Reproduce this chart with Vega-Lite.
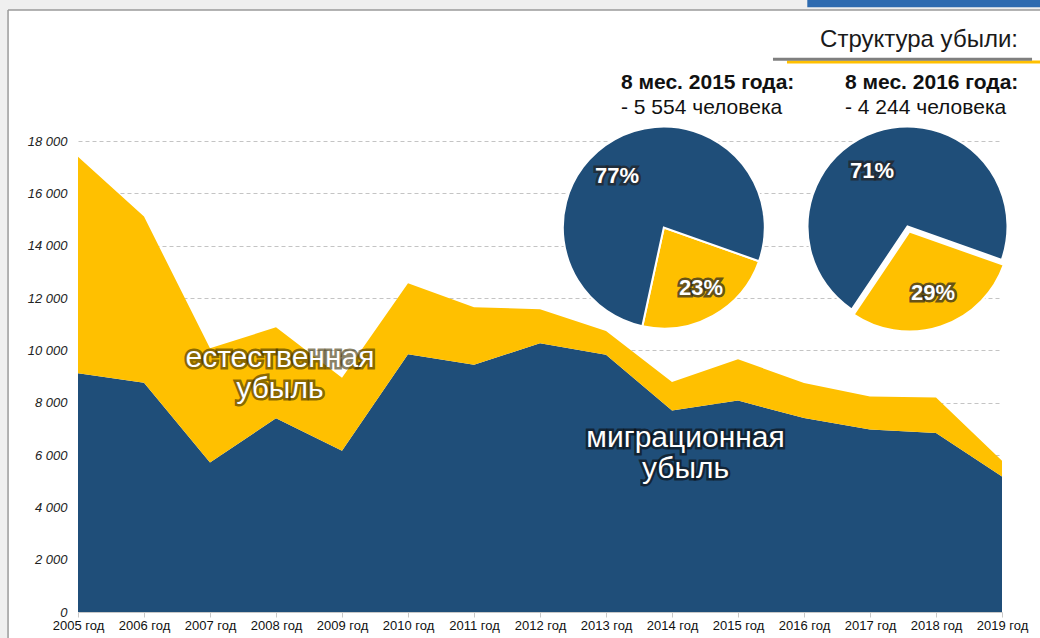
{
  "$schema": "https://vega.github.io/schema/vega-lite/v6.json",
  "width": 924,
  "height": 471,
  "autosize": {"type": "none"},
  "padding": {"left": 78, "top": 141, "right": 38, "bottom": 26},
  "background": "white",
  "config": {"view": {"stroke": null}, "font": "Liberation Sans", "text": {"font": "Liberation Sans"}},
  "data": {"values": [{}]},
  "datasets": {
    "loss": [
      {"year": 2005, "type": "миграционная", "value": 9120}, {"year": 2005, "type": "естественная", "value": 8280},
      {"year": 2006, "type": "миграционная", "value": 8760}, {"year": 2006, "type": "естественная", "value": 6350},
      {"year": 2007, "type": "миграционная", "value": 5710}, {"year": 2007, "type": "естественная", "value": 4370},
      {"year": 2008, "type": "миграционная", "value": 7400}, {"year": 2008, "type": "естественная", "value": 3480},
      {"year": 2009, "type": "миграционная", "value": 6160}, {"year": 2009, "type": "естественная", "value": 2790},
      {"year": 2010, "type": "миграционная", "value": 9850}, {"year": 2010, "type": "естественная", "value": 2710},
      {"year": 2011, "type": "миграционная", "value": 9450}, {"year": 2011, "type": "естественная", "value": 2200},
      {"year": 2012, "type": "миграционная", "value": 10270}, {"year": 2012, "type": "естественная", "value": 1300},
      {"year": 2013, "type": "миграционная", "value": 9830}, {"year": 2013, "type": "естественная", "value": 910},
      {"year": 2014, "type": "миграционная", "value": 7700}, {"year": 2014, "type": "естественная", "value": 1090},
      {"year": 2015, "type": "миграционная", "value": 8080}, {"year": 2015, "type": "естественная", "value": 1580},
      {"year": 2016, "type": "миграционная", "value": 7410}, {"year": 2016, "type": "естественная", "value": 1340},
      {"year": 2017, "type": "миграционная", "value": 6970}, {"year": 2017, "type": "естественная", "value": 1270},
      {"year": 2018, "type": "миграционная", "value": 6840}, {"year": 2018, "type": "естественная", "value": 1360},
      {"year": 2019, "type": "миграционная", "value": 5180}, {"year": 2019, "type": "естественная", "value": 600}
    ],
    "pie2015": [{"type": "естественная", "pct": 23}, {"type": "миграционная", "pct": 77}],
    "pie2016": [{"type": "естественная", "pct": 29}, {"type": "миграционная", "pct": 71}]
  },
  "layer": [
    {
      "mark": {"type": "rect", "fill": "#efefef"},
      "encoding": {
        "x": {"datum": 2003.6, "type": "quantitative"},
        "x2": {"datum": 2003.94},
        "y": {"datum": 23600, "type": "quantitative"},
        "y2": {"datum": -1500}
      }
    },
    {
      "mark": {"type": "rect", "fill": "#efefef"},
      "encoding": {
        "x": {"datum": 2003.6, "type": "quantitative"},
        "x2": {"datum": 2019.75},
        "y": {"datum": 23600, "type": "quantitative"},
        "y2": {"datum": 23007}
      }
    },
    {
      "mark": {"type": "rule", "color": "#9a9a9a", "strokeWidth": 1.5},
      "encoding": {
        "x": {"datum": 2003.94, "type": "quantitative"},
        "y": {"datum": 23007, "type": "quantitative"},
        "y2": {"datum": -1500}
      }
    },
    {
      "mark": {"type": "rule", "color": "#9a9a9a", "strokeWidth": 1.5},
      "encoding": {
        "x": {"datum": 2003.94, "type": "quantitative"},
        "x2": {"datum": 2019.75},
        "y": {"datum": 23007, "type": "quantitative"}
      }
    },
    {
      "mark": {"type": "rect", "fill": "#2e6bb0"},
      "encoding": {
        "x": {"datum": 2016.05, "type": "quantitative"},
        "x2": {"datum": 2019.75},
        "y": {"datum": 23600, "type": "quantitative"},
        "y2": {"datum": 23110}
      }
    },
    {
      "data": {"name": "loss"},
      "mark": {"type": "area", "opacity": 1},
      "encoding": {
        "x": {
          "field": "year", "type": "quantitative",
          "scale": {"domain": [2005, 2019], "nice": false, "zero": false},
          "axis": {
            "title": null, "values": [2005, 2006, 2007, 2008, 2009, 2010, 2011, 2012, 2013, 2014, 2015, 2016, 2017, 2018, 2019],
            "labelExpr": "datum.value + ' год'", "grid": false,
            "domainColor": "#c8c8c8", "tickColor": "#c8c8c8", "tickSize": 5,
            "labelFontSize": 13, "labelColor": "#111", "labelPadding": 2, "labelFlush": false, "labelOverlap": false
          }
        },
        "y": {
          "field": "value", "type": "quantitative", "stack": "zero",
          "scale": {"domain": [0, 18000], "nice": false},
          "axis": {
            "title": null, "values": [0, 2000, 4000, 6000, 8000, 10000, 12000, 14000, 16000, 18000],
            "labelExpr": "replace(format(datum.value, ','), ',', ' ')",
            "domain": false, "ticks": false, "labelPadding": 11,
            "labelFontSize": 13, "labelFontStyle": "italic", "labelColor": "#222",
            "grid": true, "gridColor": "#c4c4c4", "gridDash": [4, 3], "gridWidth": 1
          }
        },
        "color": {
          "field": "type", "type": "nominal",
          "scale": {"domain": ["естественная", "миграционная"], "range": ["#FFC000", "#1F4E79"]},
          "legend": null
        },
        "order": {"field": "type", "sort": "descending"}
      }
    },
    {
      "data": {"name": "pie2015"},
      "mark": {"type": "arc", "outerRadius": 101, "stroke": "white", "strokeWidth": 2},
      "encoding": {
        "x": {"datum": 2013.876, "type": "quantitative"},
        "y": {"datum": 14694, "type": "quantitative"},
        "theta": {"field": "pct", "type": "quantitative", "stack": true, "scale": {"range": [1.911, 8.194]}},
        "color": {"field": "type", "type": "nominal", "legend": null},
        "order": {"field": "type", "sort": "ascending"}
      }
    },
    {
      "data": {"name": "pie2016"},
      "mark": {"type": "arc", "outerRadius": 100, "stroke": "white", "strokeWidth": 2},
      "encoding": {
        "x": {"datum": 2017.568, "type": "quantitative"},
        "y": {"datum": 14732, "type": "quantitative"},
        "theta": {"field": "pct", "type": "quantitative", "stack": true, "scale": {"range": [1.911, 8.194]}},
        "color": {
          "condition": {"test": "datum.type === 'естественная'", "value": "white"},
          "field": "type", "type": "nominal", "legend": null
        },
        "order": {"field": "type", "sort": "ascending"}
      }
    },
    {
      "data": {"name": "pie2016"},
      "mark": {"type": "arc", "outerRadius": 100, "stroke": "white", "strokeWidth": 2, "xOffset": 2, "yOffset": 5},
      "encoding": {
        "x": {"datum": 2017.568, "type": "quantitative"},
        "y": {"datum": 14732, "type": "quantitative"},
        "theta": {"field": "pct", "type": "quantitative", "stack": true, "scale": {"range": [1.911, 8.194]}},
        "color": {"field": "type", "type": "nominal", "legend": null},
        "opacity": {"condition": {"test": "datum.type === 'миграционная'", "value": 0}, "value": 1},
        "order": {"field": "type", "sort": "ascending"}
      }
    },
    {
      "mark": {"type": "rule", "color": "#FFC000", "strokeWidth": 3},
      "encoding": {
        "x": {"datum": 2015.742, "type": "quantitative"},
        "x2": {"datum": 2019.75},
        "y": {"datum": 21019, "type": "quantitative"}
      }
    },
    {
      "mark": {"type": "rule", "color": "#7f7f7f", "strokeWidth": 3},
      "encoding": {
        "x": {"datum": 2015.53, "type": "quantitative"},
        "x2": {"datum": 2019.455},
        "y": {"datum": 21123, "type": "quantitative"}
      }
    },
    {
      "mark": {"type": "text", "text": "Структура убыли:", "align": "right", "baseline": "middle", "fontSize": 24, "color": "#1a1a1a"},
      "encoding": {
        "x": {"datum": 2019.242, "type": "quantitative"},
        "y": {"datum": 21860, "type": "quantitative"}
      }
    },
    {
      "mark": {"type": "text", "text": "8 мес. 2015 года:", "align": "left", "baseline": "middle", "fontSize": 21, "fontWeight": "bold", "color": "#111"},
      "encoding": {
        "x": {"datum": 2013.227, "type": "quantitative"},
        "y": {"datum": 20217, "type": "quantitative"}
      }
    },
    {
      "mark": {"type": "text", "text": "- 5 554 человека", "align": "left", "baseline": "middle", "fontSize": 21, "color": "#111"},
      "encoding": {
        "x": {"datum": 2013.227, "type": "quantitative"},
        "y": {"datum": 19261, "type": "quantitative"}
      }
    },
    {
      "mark": {"type": "text", "text": "8 мес. 2016 года:", "align": "left", "baseline": "middle", "fontSize": 21, "fontWeight": "bold", "color": "#111"},
      "encoding": {
        "x": {"datum": 2016.621, "type": "quantitative"},
        "y": {"datum": 20217, "type": "quantitative"}
      }
    },
    {
      "mark": {"type": "text", "text": "- 4 244 человека", "align": "left", "baseline": "middle", "fontSize": 21, "color": "#111"},
      "encoding": {
        "x": {"datum": 2016.621, "type": "quantitative"},
        "y": {"datum": 19261, "type": "quantitative"}
      }
    },
    {
      "encoding": {
        "x": {"datum": 2013.167, "type": "quantitative"},
        "y": {"datum": 16662, "type": "quantitative"}
      },
      "layer": [
        {"mark": {"type": "text", "text": "77%", "align": "center", "baseline": "middle", "fontSize": 22, "fontWeight": "bold", "color": "#222", "stroke": "#222", "strokeWidth": 5, "strokeOpacity": 0.7}},
        {"mark": {"type": "text", "text": "77%", "align": "center", "baseline": "middle", "fontSize": 22, "fontWeight": "bold", "color": "white"}}
      ]
    },
    {
      "encoding": {
        "x": {"datum": 2014.439, "type": "quantitative"},
        "y": {"datum": 12382, "type": "quantitative"}
      },
      "layer": [
        {"mark": {"type": "text", "text": "23%", "align": "center", "baseline": "middle", "fontSize": 22, "fontWeight": "bold", "color": "#222", "stroke": "#222", "strokeWidth": 5, "strokeOpacity": 0.7}},
        {"mark": {"type": "text", "text": "23%", "align": "center", "baseline": "middle", "fontSize": 22, "fontWeight": "bold", "color": "white"}}
      ]
    },
    {
      "encoding": {
        "x": {"datum": 2017.03, "type": "quantitative"},
        "y": {"datum": 16853, "type": "quantitative"}
      },
      "layer": [
        {"mark": {"type": "text", "text": "71%", "align": "center", "baseline": "middle", "fontSize": 22, "fontWeight": "bold", "color": "#222", "stroke": "#222", "strokeWidth": 5, "strokeOpacity": 0.7}},
        {"mark": {"type": "text", "text": "71%", "align": "center", "baseline": "middle", "fontSize": 22, "fontWeight": "bold", "color": "white"}}
      ]
    },
    {
      "encoding": {
        "x": {"datum": 2017.955, "type": "quantitative"},
        "y": {"datum": 12191, "type": "quantitative"}
      },
      "layer": [
        {"mark": {"type": "text", "text": "29%", "align": "center", "baseline": "middle", "fontSize": 22, "fontWeight": "bold", "color": "#222", "stroke": "#222", "strokeWidth": 5, "strokeOpacity": 0.7}},
        {"mark": {"type": "text", "text": "29%", "align": "center", "baseline": "middle", "fontSize": 22, "fontWeight": "bold", "color": "white"}}
      ]
    },
    {
      "encoding": {
        "x": {"datum": 2008.06, "type": "quantitative"},
        "y": {"datum": 9706, "type": "quantitative"}
      },
      "layer": [
        {"mark": {"type": "text", "text": ["естественная", "убыль"], "lineHeight": 31, "align": "center", "baseline": "middle", "fontSize": 30, "color": "#3d2f00", "stroke": "#3d2f00", "strokeWidth": 5, "strokeOpacity": 0.6}},
        {"mark": {"type": "text", "text": ["естественная", "убыль"], "lineHeight": 31, "align": "center", "baseline": "middle", "fontSize": 30, "color": "white"}}
      ]
    },
    {
      "encoding": {
        "x": {"datum": 2014.205, "type": "quantitative"},
        "y": {"datum": 6649, "type": "quantitative"}
      },
      "layer": [
        {"mark": {"type": "text", "text": ["миграционная", "убыль"], "lineHeight": 31, "align": "center", "baseline": "middle", "fontSize": 30, "color": "#0a0a0a", "stroke": "#0a0a0a", "strokeWidth": 5, "strokeOpacity": 0.6}},
        {"mark": {"type": "text", "text": ["миграционная", "убыль"], "lineHeight": 31, "align": "center", "baseline": "middle", "fontSize": 30, "color": "white"}}
      ]
    }
  ]
}
